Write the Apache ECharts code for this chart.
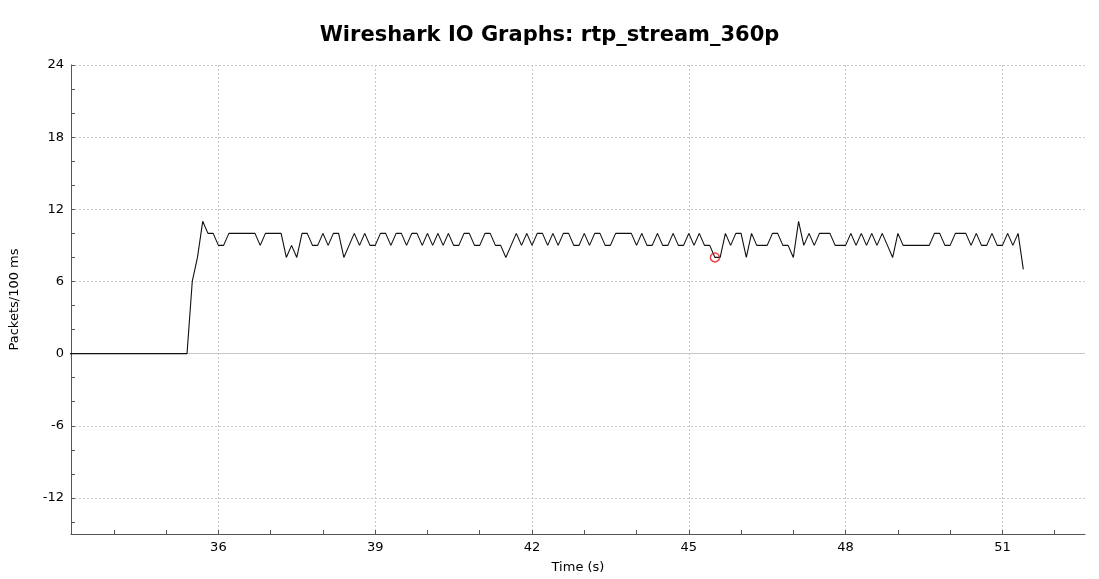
<!DOCTYPE html>
<html>
<head>
<meta charset="utf-8">
<script src="https://cdn.jsdelivr.net/npm/echarts@6/dist/echarts.min.js"></script>
<style>html,body{margin:0;padding:0;background:#fff;}#c{width:1099px;height:579px;}</style>
</head>
<body>
<div id="c"></div>
<script>
// ---- data (Packets per 100 ms interval) ----
const TITLE = 'Wireshark IO Graphs: rtp_stream_360p';
const START_TIME = 33.1;       // time of first interval (s)
const INTERVAL = 0.1;          // 100 ms bins
const packetsBefore36 = [0,0,0,0,0,0,0,0,0,0, 0,0,0,0,0,0,0,0,0,0, 0,0,0,0, 6,8,11,10,10]; // 33.1 .. 35.9
const packets36 = [9,9,10,10,10,10,10,10,9,10];
const packets37 = [10,10,10,8,9,8,10,10,9,9];
const packets38 = [10,9,10,10,8,9,10,9,10,9];
const packets39 = [9,10,10,9,10,10,9,10,10,9];
const packets40 = [10,9,10,9,10,9,9,10,10,9];
const packets41 = [9,10,10,9,9,8,9,10,9,10];
const packets42 = [9,10,10,9,10,9,10,10,9,9];
const packets43 = [10,9,10,10,9,9,10,10,10,10];
const packets44 = [9,10,9,9,10,9,9,10,9,9];
const packets45 = [10,9,10,9,9,8,8,10,9,10];
const packets46 = [10,8,10,9,9,9,10,10,9,9];
const packets47 = [8,11,9,10,9,10,10,10,9,9];
const packets48 = [9,10,9,10,9,10,9,10,9,8];
const packets49 = [10,9,9,9,9,9,9,10,10,9];
const packets50 = [9,10,10,10,9,10,9,9,10,9];
const packets51 = [9,10,9,10,7];
const markerTime = [45.5];
const markerValue = [8];

const xLabelValues = [36,39,42,45,48,51];
const xMinorValues = [34,35,36,37,38,39,40,41,42,43,44,45,46,47,48,49,50,51,52];
const yLabelValues = [-12,-6,0,6,12,18,24];
const yGridValues = [-12,-6,6,12,18,24];
const yMinorValues = [-14,-12,-10,-8,-6,-4,-2,0,2,4,6,8,10,12,14,16,18,20,22,24];
const X_MIN = 33.18, X_MAX = 52.58, Y_MIN = -15, Y_MAX = 24;

const packets = [].concat(packetsBefore36, packets36, packets37, packets38, packets39, packets40,
  packets41, packets42, packets43, packets44, packets45, packets46, packets47, packets48,
  packets49, packets50, packets51);
const lineData = packets.map((v, i) => [Math.round((START_TIME + i * INTERVAL) * 10) / 10, v]);
const markerData = markerTime.map((t, i) => [t, markerValue[i]]);

const FONT = 'DejaVu Sans';
const gridLine = { show: true, lineStyle: { color: '#c8c8c8', type: [2, 2], width: 1 } };
const hiddenAxisBits = { axisLine: { show: false, onZero: false }, axisLabel: { show: false } };

const chart = echarts.init(document.getElementById('c'));
chart.setOption({
  animation: false,
  backgroundColor: '#ffffff',
  title: {
    text: TITLE, left: 'center', top: 20,
    textStyle: { fontFamily: FONT, fontWeight: 'bold', fontSize: 21, color: '#000' }
  },
  grid: { left: 68, right: 14, top: 65, bottom: 39 },
  xAxis: [
    {
      type: 'value', min: X_MIN, max: X_MAX,
      name: 'Time (s)', nameLocation: 'middle', nameGap: 27,
      nameTextStyle: { fontFamily: FONT, fontSize: 13, color: '#000' },
      axisLine: { show: true, onZero: false, lineStyle: { color: '#555', width: 1 } },
      axisTick: { show: true, inside: true, length: 4, customValues: xMinorValues, lineStyle: { color: '#555' } },
      axisLabel: { customValues: xLabelValues, fontFamily: FONT, fontSize: 13, color: '#000', margin: 7 },
      splitLine: { show: false }
    },
    Object.assign({
      type: 'value', min: X_MIN, max: X_MAX, position: 'bottom',
      axisTick: { show: false, customValues: xLabelValues },
      splitLine: gridLine
    }, hiddenAxisBits)
  ],
  yAxis: [
    {
      type: 'value', min: Y_MIN, max: Y_MAX,
      name: 'Packets/100 ms', nameLocation: 'middle', nameGap: 50, nameRotate: 90,
      nameTextStyle: { fontFamily: FONT, fontSize: 13, color: '#000' },
      axisLine: { show: true, onZero: false, lineStyle: { color: '#555', width: 1 } },
      axisTick: { show: true, inside: true, length: 4, customValues: yMinorValues, lineStyle: { color: '#555' } },
      axisLabel: { customValues: yLabelValues, fontFamily: FONT, fontSize: 13, color: '#000', margin: 7 },
      splitLine: { show: false }
    },
    Object.assign({
      type: 'value', min: Y_MIN, max: Y_MAX, position: 'left',
      axisTick: { show: false, customValues: yGridValues },
      splitLine: gridLine
    }, hiddenAxisBits),
    Object.assign({
      type: 'value', min: Y_MIN, max: Y_MAX, position: 'left',
      axisTick: { show: false, customValues: [0] },
      splitLine: { show: true, lineStyle: { color: '#c8c8c8', type: 'solid', width: 1 } }
    }, hiddenAxisBits)
  ],
  series: [
    {
      type: 'line', xAxisIndex: 0, yAxisIndex: 0,
      data: lineData, showSymbol: false, symbol: 'none',
      lineStyle: { color: '#111', width: 1.1 },
      z: 3
    },
    {
      type: 'scatter', xAxisIndex: 0, yAxisIndex: 0,
      data: markerData, symbol: 'circle', symbolSize: 9,
      itemStyle: { color: 'rgba(0,0,0,0)', borderColor: '#e8141c', borderWidth: 1.5 },
      z: 4
    }
  ]
});
</script>
</body>
</html>
